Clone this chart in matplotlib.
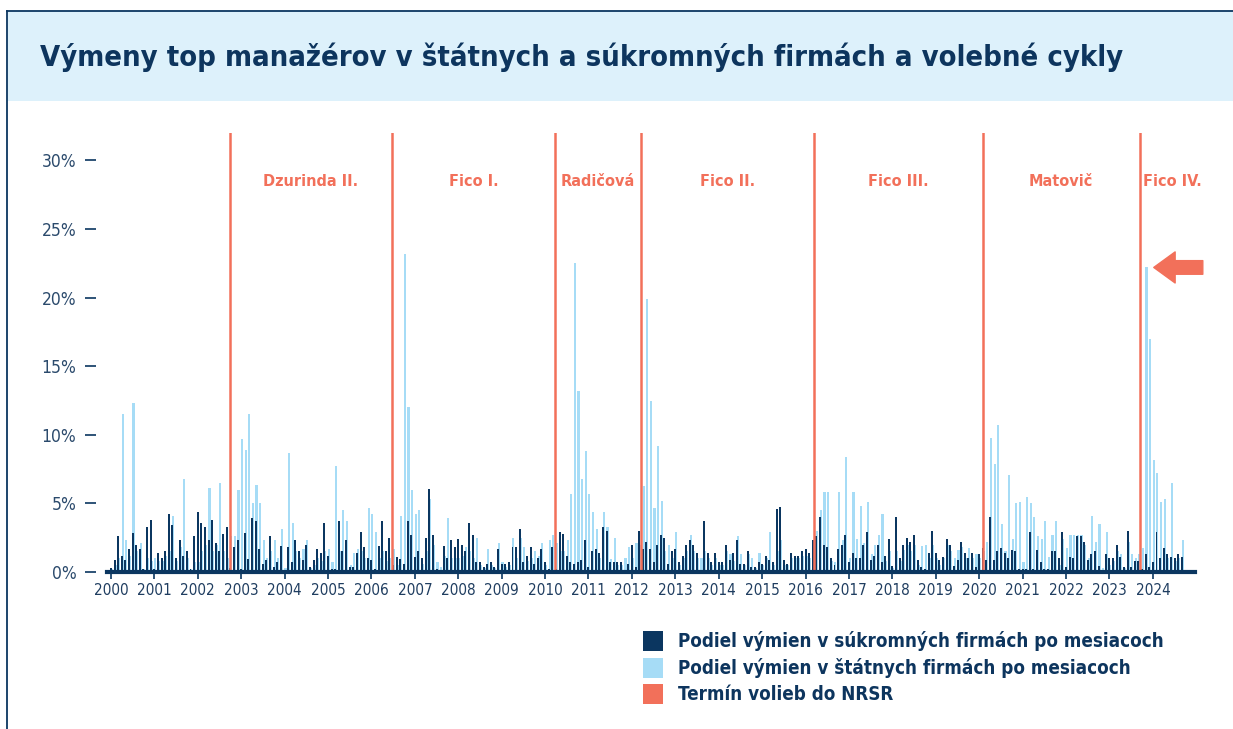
import numpy as np
import matplotlib
matplotlib.use("Agg")
import matplotlib.pyplot as plt
from matplotlib.patches import Rectangle
from matplotlib.lines import Line2D

plt.rcParams['font.family'] = ['DejaVu Sans']
plt.rcParams['font.stretch'] = 'condensed'

NAVY = '#0b3660'
LIGHT = '#a6dcf6'
RED = '#f2705a'

# podiel vymien v sukromnych firmach (%), po mesiacoch
private_2000 = [0.3, 0.85, 2.6, 1.2, 0.85, 1.7, 2.85, 2.0, 1.7, 0.25, 3.3, 3.8]
private_2001 = [0.25, 1.35, 1.0, 1.5, 4.25, 3.4, 1.0, 2.3, 1.2, 1.5, 0.2, 2.6]
private_2002 = [4.4, 3.6, 3.3, 2.3, 3.8, 2.1, 1.5, 2.75, 3.3, 0.3, 1.8, 2.3]
private_2003 = [0.25, 2.85, 0.95, 3.95, 3.75, 1.7, 0.6, 0.85, 2.6, 0.4, 0.75, 1.9]
private_2004 = [0.15, 1.8, 0.75, 2.35, 1.5, 0.9, 2.0, 0.4, 0.85, 1.7, 1.35, 3.6]
private_2005 = [1.2, 0.25, 0.25, 3.75, 1.5, 2.3, 0.4, 0.35, 1.35, 2.95, 1.8, 1.0]
private_2006 = [0.85, 0.2, 1.9, 3.75, 1.5, 2.5, 0.5, 1.1, 0.95, 0.55, 3.75, 2.7]
private_2007 = [1.1, 1.55, 1.0, 2.5, 6.05, 2.7, 0.2, 0.15, 1.9, 1.0, 2.3, 1.8]
private_2008 = [2.4, 2.0, 1.55, 3.6, 2.7, 0.7, 0.7, 0.4, 0.6, 0.75, 0.4, 1.7]
private_2009 = [0.6, 0.6, 0.75, 1.8, 1.8, 3.1, 0.75, 1.2, 1.8, 0.6, 1.0, 1.7]
private_2010 = [0.75, 0.2, 1.8, 0.2, 2.9, 2.8, 1.2, 0.75, 0.55, 0.75, 0.85, 2.3]
private_2011 = [0.35, 1.5, 1.7, 1.35, 3.3, 3.0, 0.75, 0.75, 0.75, 0.75, 0.1, 0.6]
private_2012 = [2.0, 0.4, 3.0, 1.7, 2.2, 1.7, 0.75, 2.0, 2.7, 2.5, 0.6, 1.5]
private_2013 = [1.7, 0.75, 1.2, 2.0, 2.3, 2.0, 1.35, 0.1, 3.7, 1.35, 0.75, 1.35]
private_2014 = [0.75, 0.75, 2.0, 0.85, 1.35, 2.3, 0.6, 0.6, 1.5, 0.4, 0.4, 0.75]
private_2015 = [0.6, 1.2, 0.85, 0.75, 4.6, 4.75, 0.85, 0.6, 1.35, 1.2, 1.2, 1.5]
private_2016 = [1.7, 1.35, 2.3, 2.6, 4.0, 2.0, 1.8, 1.0, 0.5, 1.7, 2.0, 2.7]
private_2017 = [0.75, 1.35, 1.0, 1.0, 2.0, 2.9, 0.85, 1.2, 2.0, 0.7, 1.2, 2.4]
private_2018 = [0.45, 4.0, 1.0, 2.0, 2.5, 2.2, 2.7, 0.85, 0.35, 0.2, 1.35, 3.0]
private_2019 = [1.4, 0.85, 1.1, 2.4, 2.0, 0.45, 0.85, 2.2, 1.4, 1.0, 1.4, 0.35]
private_2020 = [1.3, 1.75, 0.85, 4.0, 0.85, 1.5, 1.75, 1.35, 1.0, 1.6, 1.5, 0.2]
private_2021 = [0.2, 0.2, 2.9, 0.2, 1.6, 0.7, 0.2, 0.2, 1.5, 1.5, 1.0, 2.9]
private_2022 = [0.4, 1.1, 1.0, 2.6, 2.6, 2.2, 0.85, 1.3, 1.5, 0.45, 0.1, 1.3]
private_2023 = [1.0, 1.0, 2.0, 1.1, 0.4, 3.0, 0.4, 0.8, 0.8, 0.2, 1.3, 0.4]
private_2024 = [0.7, 2.9, 1.0, 1.75, 1.3, 1.1, 1.0, 1.3, 1.1]

# podiel vymien v statnych firmach (%), po mesiacoch
state_2000 = [0.2, 0.5, 1.0, 11.5, 2.3, 1.2, 12.3, 1.5, 2.1, 0.2, 1.0, 0.8]
state_2001 = [1.0, 0.8, 0.8, 1.2, 1.5, 4.1, 0.8, 1.8, 6.8, 1.0, 0.2, 0.7]
state_2002 = [0.7, 1.5, 2.0, 6.1, 1.5, 2.0, 6.5, 1.5, 1.0, 2.6, 2.6, 6.0]
state_2003 = [9.7, 8.9, 11.5, 5.0, 6.35, 5.0, 2.3, 1.0, 1.5, 2.3, 1.0, 3.1]
state_2004 = [0.3, 8.7, 3.6, 1.5, 1.0, 1.7, 2.3, 0.3, 0.5, 1.0, 0.8, 1.5]
state_2005 = [1.7, 0.7, 7.7, 1.5, 4.5, 3.7, 0.5, 1.36, 1.7, 1.5, 1.0, 4.7]
state_2006 = [4.2, 2.9, 1.0, 1.5, 0.8, 1.0, 1.7, 0.5, 4.1, 23.2, 12.0, 6.0]
state_2007 = [4.2, 4.5, 0.6, 1.5, 5.3, 2.0, 0.7, 0.35, 1.2, 3.9, 1.0, 1.0]
state_2008 = [1.0, 1.2, 1.8, 1.5, 1.0, 2.5, 0.5, 0.3, 1.7, 0.5, 0.3, 2.1]
state_2009 = [0.7, 0.4, 0.5, 2.5, 1.0, 2.5, 1.8, 0.8, 1.0, 1.5, 1.2, 2.1]
state_2010 = [0.5, 2.3, 2.7, 2.1, 1.5, 1.5, 2.3, 5.7, 22.5, 13.2, 6.8, 8.8]
state_2011 = [5.7, 4.35, 3.1, 1.0, 4.35, 3.3, 0.95, 2.5, 0.5, 0.5, 1.0, 1.8]
state_2012 = [1.0, 2.1, 2.0, 6.3, 19.9, 12.5, 4.7, 9.2, 5.2, 1.5, 2.0, 1.0]
state_2013 = [2.9, 0.5, 1.0, 1.5, 2.7, 1.5, 1.0, 1.0, 1.5, 1.0, 0.5, 1.0]
state_2014 = [0.5, 0.5, 1.5, 1.3, 0.8, 2.6, 1.3, 0.5, 1.3, 1.0, 0.3, 1.36]
state_2015 = [0.5, 1.0, 2.9, 0.5, 1.5, 2.3, 0.5, 0.5, 1.0, 1.0, 1.0, 1.2]
state_2016 = [1.2, 1.0, 1.5, 3.0, 4.5, 5.8, 5.8, 0.8, 0.7, 5.8, 2.3, 8.4]
state_2017 = [1.0, 5.8, 2.4, 4.8, 2.1, 5.1, 1.3, 2.0, 2.7, 4.2, 0.8, 1.5]
state_2018 = [0.3, 1.5, 0.8, 1.6, 2.0, 1.5, 2.0, 0.5, 1.9, 2.0, 1.0, 2.0]
state_2019 = [1.0, 0.5, 1.0, 2.0, 1.5, 1.0, 1.6, 1.8, 1.0, 1.75, 1.0, 1.3]
state_2020 = [1.0, 1.5, 2.2, 9.8, 7.9, 10.7, 3.5, 1.5, 7.1, 2.4, 5.0, 5.1]
state_2021 = [0.7, 5.5, 5.0, 4.0, 2.6, 2.4, 3.7, 1.1, 2.7, 3.7, 0.5, 2.4]
state_2022 = [1.75, 2.7, 2.7, 2.7, 2.7, 2.0, 1.0, 4.1, 2.2, 3.5, 0.3, 2.9]
state_2023 = [0.5, 0.8, 1.5, 1.3, 0.3, 2.2, 1.3, 1.0, 1.3, 1.75, 22.2, 17.0]
state_2024 = [8.2, 7.2, 5.1, 5.3, 1.0, 6.5, 0.8, 1.0, 2.3]

elections = [2002.74, 2006.47, 2010.23, 2012.20, 2016.20, 2020.08, 2023.70]
governments = ["Dzurinda II.", "Fico I.", "Radičová", "Fico II.", "Fico III.", "Matovič", "Fico IV."]
years = list(range(2000, 2025))
yticks = [0, 5, 10, 15, 20, 25, 30]

private = np.concatenate([private_2000, private_2001, private_2002, private_2003, private_2004,
                          private_2005, private_2006, private_2007, private_2008, private_2009,
                          private_2010, private_2011, private_2012, private_2013, private_2014,
                          private_2015, private_2016, private_2017, private_2018, private_2019,
                          private_2020, private_2021, private_2022, private_2023, private_2024])
state = np.concatenate([state_2000, state_2001, state_2002, state_2003, state_2004,
                        state_2005, state_2006, state_2007, state_2008, state_2009,
                        state_2010, state_2011, state_2012, state_2013, state_2014,
                        state_2015, state_2016, state_2017, state_2018, state_2019,
                        state_2020, state_2021, state_2022, state_2023, state_2024])
x = 2000 + np.arange(len(private)) / 12.0

W, H = 1233, 729
fig = plt.figure(figsize=(W / 100, H / 100), dpi=100)
renderer = fig.canvas.get_renderer()


def fit_width(txt, target_px):
    # zmensi/zvacsi pismo tak, aby text mal danu sirku v pixeloch
    w = txt.get_window_extent(renderer=renderer).width
    txt.set_fontsize(txt.get_fontsize() * target_px / w)
    return txt.get_fontsize()


# ramik a titulny pas
fig.patches.append(Rectangle((8 / W, 1 - 101 / H), 1, 90 / H, transform=fig.transFigure,
                             facecolor='#ddf1fb', edgecolor='none', zorder=0))
fig.add_artist(Line2D([7 / W, 1], [1 - 10.5 / H] * 2, transform=fig.transFigure, color=NAVY, lw=1.3))
fig.add_artist(Line2D([7 / W] * 2, [0, 1 - 10.5 / H], transform=fig.transFigure, color=NAVY, lw=1.3))
title = fig.text(40 / W, 1 - 66 / H, "Výmeny top manažérov v štátnych a súkromných firmách a volebné cykly",
                 fontsize=26, weight='bold', color='#0d355e', va='baseline')
fit_width(title, 1082)

ax = fig.add_axes([107 / W, 157 / H, 1088 / W, 439 / H])
ax.bar(x + 0.25 / 12, state, width=0.6 / 12, color=LIGHT, linewidth=0, zorder=2)
ax.bar(x, private, width=0.55 / 12, color=NAVY, linewidth=0, zorder=3)

for e in elections:
    ax.axvline(e, color=RED, lw=1.8, zorder=4)

bounds = elections + [2025.2]
labels = []
for i, name in enumerate(governments):
    labels.append(ax.text((bounds[i] + bounds[i + 1]) / 2, 28.5, name, ha='center', va='center',
                          fontsize=15, weight='bold', color=RED))
fs = fit_width(labels[0], 95)
for t in labels:
    t.set_fontsize(fs)

ax.annotate('', xy=(2024.02, 22.2), xytext=(2025.15, 22.2), annotation_clip=False,
            arrowprops=dict(arrowstyle='simple,head_width=1.6,head_length=1.1,tail_width=0.7',
                            color=RED, mutation_scale=14, shrinkA=0, shrinkB=0))

ax.set_xlim(1999.91, 2024.97)
ax.set_ylim(0, 32)
ax.set_xticks(years)
ax.set_xticklabels([str(y) for y in years])
ax.set_yticks(yticks)
ax.set_yticklabels([f"{t}%" for t in yticks])

for s in ['top', 'right']:
    ax.spines[s].set_visible(False)
ax.spines['left'].set_position(('outward', 8))
ax.spines['left'].set_visible(False)
ax.spines['bottom'].set_color(NAVY)
ax.spines['bottom'].set_linewidth(3)
ax.spines['bottom'].set_zorder(5)
ax.tick_params(axis='y', length=8, width=1.2, color=NAVY, labelcolor='#2b4a6c', labelsize=12.5, pad=6)
ax.tick_params(axis='x', length=5, width=1.2, color=NAVY, labelcolor='#1f3d60', labelsize=11, pad=3)

# legenda
items = [(NAVY, "Podiel výmien v súkromných firmách po mesiacoch"),
         (LIGHT, "Podiel výmien v štátnych firmách po mesiacoch"),
         (RED, "Termín volieb do NRSR")]
leg_texts = []
for k, (c, label) in enumerate(items):
    yc = 641 + k * 26.5
    fig.patches.append(Rectangle((643 / W, 1 - (yc + 10) / H), 20 / W, 20 / H,
                                 transform=fig.transFigure, facecolor=c, edgecolor='none'))
    leg_texts.append(fig.text(678 / W, 1 - yc / H, label, fontsize=17, color='#0d355e',
                              va='center', weight='bold'))
fs = fit_width(leg_texts[0], 485)
for t in leg_texts:
    t.set_fontsize(fs)

fig.savefig('out.png', dpi=100)
